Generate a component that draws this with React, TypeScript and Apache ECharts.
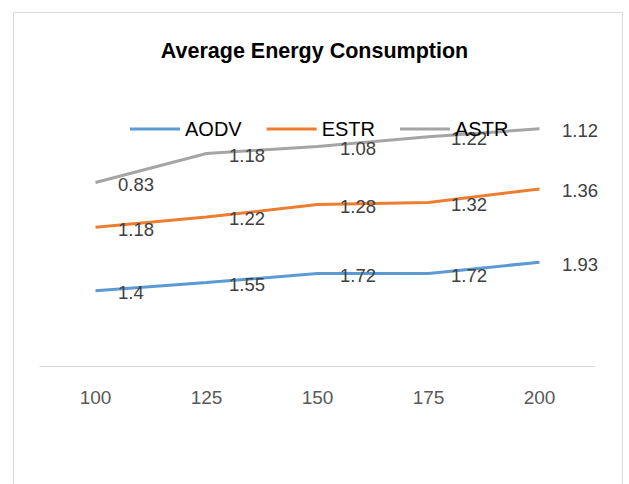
import React, { useEffect, useRef } from "react";
import * as echarts from "echarts";

const categories = ["100", "125", "150", "175", "200"];
const aodv = [1.4, 1.55, 1.72, 1.72, 1.93];
const estr = [1.18, 1.22, 1.28, 1.32, 1.36];
const astr = [0.83, 1.18, 1.08, 1.22, 1.12];
const seriesNames = ["AODV", "ESTR", "ASTR"];
const colors = ["#5B9BD5", "#ED7D31", "#A5A5A5"];

const FONT = "Liberation Sans, Arial, sans-serif";

export default function App() {
  const ref = useRef<HTMLDivElement>(null);
  useEffect(() => {
    if (!ref.current) return;
    const chart = echarts.init(ref.current, undefined, { renderer: "svg" });
    const values = [aodv, estr, astr];
    chart.setOption({
      animation: false,
      textStyle: { fontFamily: FONT },
      color: colors,
      title: {
        text: "Average Energy Consumption",
        left: "center",
        top: 35,
        textStyle: { fontFamily: FONT, fontSize: 21.5, fontWeight: "bold", color: "#000" },
      },
      legend: {
        left: 125,
        top: 114,
        itemWidth: 50,
        itemHeight: 3,
        itemGap: 25,
        icon: "rect",
        itemStyle: { opacity: 1 },
        textStyle: { fontFamily: FONT, fontSize: 20, color: "#000" },
        data: seriesNames,
      },
      graphic: [
        {
          type: "rect",
          shape: { x: 13.5, y: 12.5, width: 609, height: 480 },
          style: { fill: "none", stroke: "#d9d9d9", lineWidth: 1 },
          silent: true,
        },
      ],
      grid: { left: 40, right: 34, top: 97, bottom: 118 },
      xAxis: {
        type: "category",
        data: categories,
        boundaryGap: true,
        axisLine: { lineStyle: { color: "#d9d9d9", width: 1 } },
        axisTick: { show: false },
        axisLabel: { color: "#595959", fontSize: 19, margin: 22, fontFamily: FONT },
      },
      yAxis: {
        type: "value",
        min: 0,
        max: 5,
        show: false,
        splitLine: { show: false },
      },
      series: seriesNames.map((name, i) => ({
        name,
        type: "line",
        stack: "total",
        data: values[i],
        symbol: "circle",
        symbolSize: 1,
        showSymbol: true,
        lineStyle: { width: 3, color: colors[i] },
        itemStyle: { color: colors[i], opacity: 0 },
        label: {
          show: true,
          position: "right",
          distance: 22,
          offset: [0, 2],
          color: "#404040",
          opacity: 1,
          fontSize: 18.5,
          fontFamily: FONT,
        },
        emphasis: { disabled: true },
      })),
    });
    return () => chart.dispose();
  }, []);
  return (
    <div
      ref={ref}
      style={{ position: "absolute", left: 0, top: 0, width: 629, height: 484 }}
    />
  );
}
